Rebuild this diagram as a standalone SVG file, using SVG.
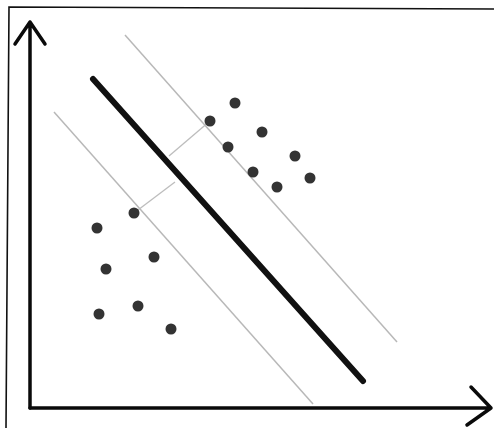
<svg xmlns="http://www.w3.org/2000/svg" width="494" height="428" viewBox="0 0 494 428">
<style>
.frame{fill:none;stroke:#111;stroke-width:1.6}
.axis{fill:none;stroke:#0a0a0a;stroke-width:3.5;stroke-linecap:round;stroke-linejoin:round}
.hyper{stroke:#111;stroke-width:6;stroke-linecap:round}
.margin{stroke:#b8b8b8;stroke-width:1.5}
.perp{stroke:#bdbdbd;stroke-width:1.3}
.pt{fill:#333}
</style>
<rect width="494" height="428" fill="#fff"/>
<path class="frame" d="M6,428 L9,7 L494,9"/>
<g id="connectors">
<path class="axis" d="M30,408 L30,22 M15,44 L30,22 L45,44"/>
<path class="axis" d="M30,408 L491,408 M471,387 L491,408 L467,425"/>
<line class="margin" x1="125" y1="35" x2="397" y2="342"/>
<line class="margin" x1="54" y1="112" x2="313" y2="404"/>
<line class="perp" x1="210" y1="121" x2="169" y2="156"/>
<line class="perp" x1="134" y1="213" x2="175" y2="182"/>
<line class="hyper" x1="93" y1="79" x2="363" y2="381"/>
</g>
<g id="class-a">
<circle class="pt" cx="235" cy="103" r="5.5"/>
<circle class="pt" cx="210" cy="121" r="5.5"/>
<circle class="pt" cx="262" cy="132" r="5.5"/>
<circle class="pt" cx="228" cy="147" r="5.5"/>
<circle class="pt" cx="295" cy="156" r="5.5"/>
<circle class="pt" cx="253" cy="172" r="5.5"/>
<circle class="pt" cx="310" cy="178" r="5.5"/>
<circle class="pt" cx="277" cy="187" r="5.5"/>
</g>
<g id="class-b">
<circle class="pt" cx="134" cy="213" r="5.5"/>
<circle class="pt" cx="97" cy="228" r="5.5"/>
<circle class="pt" cx="154" cy="257" r="5.5"/>
<circle class="pt" cx="106" cy="269" r="5.5"/>
<circle class="pt" cx="138" cy="306" r="5.5"/>
<circle class="pt" cx="99" cy="314" r="5.5"/>
<circle class="pt" cx="171" cy="329" r="5.5"/>
</g>
</svg>
